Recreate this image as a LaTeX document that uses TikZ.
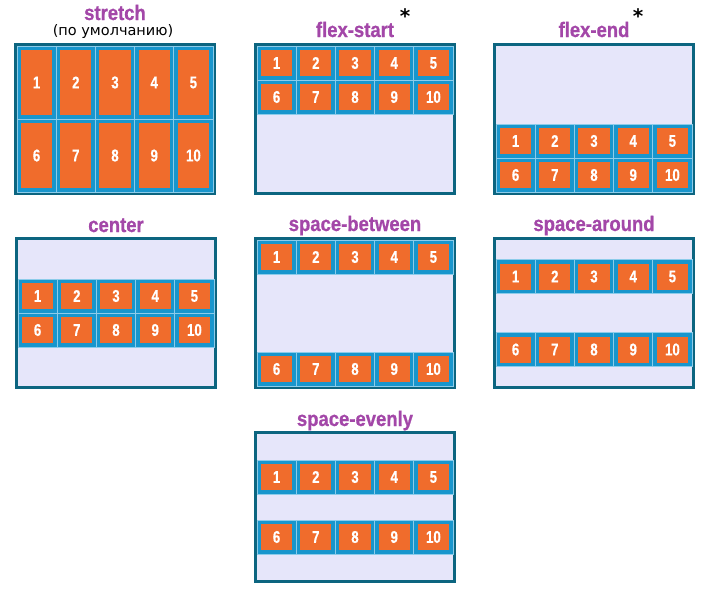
\documentclass[tikz,border=0pt]{standalone}
\usepackage{fontspec}
\setmainfont{Liberation Sans}
\newfontfamily\titlefont[FakeStretch=0.88, FakeBold=0.8]{Liberation Sans}
\newfontfamily\numfont[FakeStretch=0.78, FakeBold=0.5]{Liberation Sans}
\newfontfamily\notefont{DejaVu Sans}
\usetikzlibrary{positioning}

\definecolor{frameteal}{HTML}{0C6580}
\definecolor{cellblue}{HTML}{1896CD}
\definecolor{sepblue}{HTML}{8CCCEA}
\definecolor{boxorange}{HTML}{F06C2C}
\definecolor{lavender}{HTML}{E6E6FA}
\definecolor{titlepurple}{HTML}{A347A8}

\tikzset{
        container/.style={draw=frameteal, line width=3pt, fill=lavender, rectangle, inner sep=0pt, minimum width=199pt, minimum height=149pt},
        cell/.style={draw=sepblue, line width=0.8pt, fill=cellblue},
        item/.style={fill=boxorange, text=white, inner sep=0pt, minimum width=31.2pt, font=\numfont\bfseries\fontsize{17}{17}\selectfont},
        title/.style={text=titlepurple, inner sep=0pt, font=\titlefont\bfseries\fontsize{21}{21}\selectfont},
        note/.style={inner sep=0pt, font=\notefont\fontsize{14.5}{14.5}\selectfont},
        starmark/.style={inner sep=0pt, anchor=base, font=\notefont\bfseries\fontsize{20}{20}\selectfont},
    }

% one row of five items: prefix, x, y, row height, first number
\newcommand{\flexrow}[5]{%
    \foreach \i in {0,...,4} {%
        \pgfmathtruncatemacro{\itemno}{#5+\i}%
        \draw[cell] ({#2+39.2*\i},#3) rectangle ++(39.2,#4);
        \node[item, minimum height=#4pt-8pt] (#1-\itemno) at ({#2+39.2*\i+19.6},{#3+#4/2}) {\itemno};
    }%
}

\begin{document}
\begin{tikzpicture}[x=1pt, y=-1pt]

        \useasboundingbox (0,0) rectangle (716,600);

        % Containers
        \node[container] (stretchbox) at (115,119) {};
        \node[container] (startbox) at (355,119) {};
        \node[container] (endbox) at (594,119) {};
        \node[container] (centerbox) at (116,313) {};
        \node[container] (betweenbox) at (355,313) {};
        \node[container] (aroundbox) at (594,313) {};
        \node[container] (evenlybox) at (355,507) {};

        % Titles
        \node[title, above=23pt of stretchbox, anchor=base] (stretchtitle) {stretch};
        \node[note, anchor=base] (defaultnote) at (113,35) {(по умолчанию)};
        \node[title, above=6pt of startbox, anchor=base] (starttitle) {flex-start};
        \node[title, above=6pt of endbox, anchor=base] (endtitle) {flex-end};
        \node[title, above=5pt of centerbox, anchor=base] (centertitle) {center};
        \node[title, above=6pt of betweenbox, anchor=base] (betweentitle) {space-between};
        \node[title, above=6pt of aroundbox, anchor=base] (aroundtitle) {space-around};
        \node[title, above=5pt of evenlybox, anchor=base] (evenlytitle) {space-evenly};

        % Asterisks
        \node[starmark] (startstar) at (405,23) {*};
        \node[starmark] (endstar) at (638,23) {*};

        % Rows of items
        \flexrow{stretch}{17}{46}{73}{1}
        \flexrow{stretch}{17}{119}{73}{6}

        \flexrow{start}{257}{46}{34}{1}
        \flexrow{start}{257}{80}{34}{6}

        \flexrow{end}{496}{124}{34}{1}
        \flexrow{end}{496}{158}{34}{6}

        \flexrow{center}{18}{279}{34}{1}
        \flexrow{center}{18}{313}{34}{6}

        \flexrow{between}{257}{240}{34}{1}
        \flexrow{between}{257}{352}{34}{6}

        \flexrow{around}{496}{259.5}{34}{1}
        \flexrow{around}{496}{332.5}{34}{6}

        \flexrow{evenly}{257}{460}{34}{1}
        \flexrow{evenly}{257}{520}{34}{6}

    \end{tikzpicture}
\end{document}
